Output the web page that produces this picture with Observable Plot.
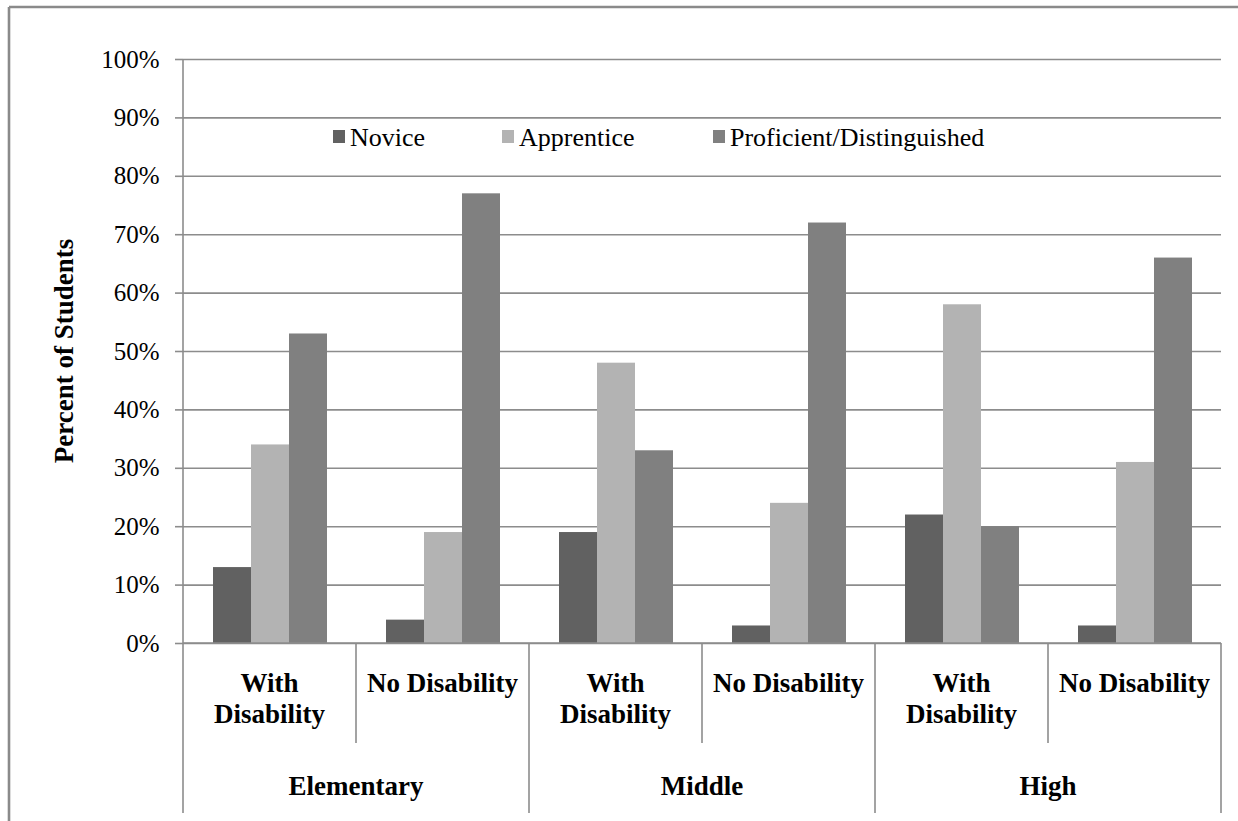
<!DOCTYPE html>
<html>
<head>
<meta charset="utf-8">
<script src="https://cdn.jsdelivr.net/npm/d3@7"></script>
<script src="https://cdn.jsdelivr.net/npm/@observablehq/plot@0.6"></script>
<style>
html, body { margin: 0; padding: 0; background: #fff; overflow: hidden; }
svg { display: block; }
svg text { font-family: 'Liberation Serif', 'Times New Roman', serif !important; }
</style>
</head>
<body>
<div id="chart"></div>
<script>
// ---- data ----
const levels = ["Elementary", "Middle", "High"];
const statuses = ["With Disability", "No Disability"];
const statusLines = [["With", "Disability"], ["No Disability"]];
const series = ["Novice", "Apprentice", "Proficient/Distinguished"];
const novice = [13, 4, 19, 3, 22, 3];
const apprentice = [34, 19, 48, 24, 58, 31];
const proficient = [53, 77, 33, 72, 20, 66];
const yTicks = [0, 10, 20, 30, 40, 50, 60, 70, 80, 90, 100];
const colors = ["#616161", "#b3b3b3", "#808080"];

const groups = levels.flatMap(l => statuses.map((s, si) => ({key: l + "|" + s, level: l, status: s, si})));
const valuesBySeries = [novice, apprentice, proficient];
const rows = [];
groups.forEach((g, i) => {
  valuesBySeries.forEach((arr, j) => rows.push({group: g.key, series: series[j], value: arr[i]}));
});

const FONT = "'Liberation Serif', 'Times New Roman', serif";
const GRID = "#8c8c8c";

const plot = Plot.plot({
  width: 1238,
  height: 821,
  marginLeft: 183,
  marginRight: 17,
  marginTop: 59,
  marginBottom: 178,
  style: `font-family: ${FONT}; font-size: 25px; background: white; color: black;`,
  fx: {domain: groups.map(d => d.key), padding: 0, axis: null, label: null},
  x: {domain: series, paddingInner: 0, paddingOuter: 0.757, axis: null, label: null},
  y: {domain: [0, 100], ticks: yTicks, tickFormat: d => d + "%", tickSize: 8, tickPadding: 16, label: null, axis: "left"},
  color: {domain: series, range: colors},
  marks: [
    Plot.ruleY(yTicks, {stroke: GRID, strokeWidth: 1.6}),
    Plot.barY(rows, {fx: "group", x: "series", y: "value", fill: "series"})
  ]
});

document.getElementById("chart").appendChild(plot);

// ---- decorations using the plot's own scales ----
const svg = d3.select(plot.tagName.toLowerCase() === "svg" ? plot : plot.querySelector("svg"));
svg.selectAll('[aria-label="y-axis tick"]').attr("stroke", GRID).attr("stroke-width", 1.6);
svg.selectAll('[aria-label="y-axis tick"] path').attr("stroke", GRID);
svg.selectAll('[aria-label="y-axis tick label"]').attr("font-family", FONT).attr("font-size", 25).attr("fill", "black");

const fx = plot.scale("fx");
const y = plot.scale("y");
const bw = fx.bandwidth;
const y0 = y.apply(0);
const yTop = y.apply(100);
const yBottom = 813;
const yMid = 743;

const g = svg.append("g").attr("font-family", FONT).attr("text-anchor", "start");

// chart area border (top and left)
g.append("line").attr("x1", 9).attr("x2", 1238).attr("y1", 7).attr("y2", 7).attr("stroke", "#8a8a8a").attr("stroke-width", 2.6);
g.append("line").attr("x1", 9).attr("x2", 9).attr("y1", 7).attr("y2", 821).attr("stroke", "#8a8a8a").attr("stroke-width", 2.6);

// vertical axis line
const xLeft = fx.apply(groups[0].key);
g.append("line").attr("x1", xLeft).attr("x2", xLeft).attr("y1", yTop).attr("y2", yBottom).attr("stroke", GRID).attr("stroke-width", 1.6);
// x axis line
const xRight = fx.apply(groups[groups.length - 1].key) + bw;
g.append("line").attr("x1", xLeft).attr("x2", xRight).attr("y1", y0).attr("y2", y0).attr("stroke", GRID).attr("stroke-width", 1.6);

// dividers
groups.forEach((d, i) => {
  if (i === 0) return;
  const x = fx.apply(d.key);
  g.append("line").attr("x1", x).attr("x2", x).attr("y1", y0).attr("y2", d.si === 0 ? yBottom : yMid)
    .attr("stroke", GRID).attr("stroke-width", 1.6);
});
g.append("line").attr("x1", xRight).attr("x2", xRight).attr("y1", y0).attr("y2", yBottom).attr("stroke", GRID).attr("stroke-width", 1.6);

// sub-category labels
groups.forEach(d => {
  const cx = fx.apply(d.key) + bw / 2;
  const lines = statusLines[d.si];
  const t = g.append("text").attr("text-anchor", "middle").attr("font-weight", "bold").attr("font-size", 27);
  lines.forEach((ln, k) => t.append("tspan").attr("x", cx).attr("y", 692 + k * 31).text(ln));
});

// level labels
levels.forEach(l => {
  const a = fx.apply(l + "|" + statuses[0]);
  const b = fx.apply(l + "|" + statuses[1]) + bw;
  g.append("text").attr("x", (a + b) / 2).attr("y", 795).attr("text-anchor", "middle")
    .attr("font-weight", "bold").attr("font-size", 27).text(l);
});

// y-axis title
g.append("text").attr("transform", `translate(73,${(y0 + yTop) / 2}) rotate(-90)`)
  .attr("text-anchor", "middle").attr("font-weight", "bold").attr("font-size", 27).text("Percent of Students");

// legend
const legendX = [333, 502, 713];
series.forEach((s, i) => {
  g.append("rect").attr("x", legendX[i]).attr("y", 130).attr("width", 12).attr("height", 13).attr("fill", colors[i]);
  g.append("text").attr("x", legendX[i] + 17).attr("y", 146).attr("text-anchor", "start").attr("font-size", 26).text(s);
});
</script>
</body>
</html>
